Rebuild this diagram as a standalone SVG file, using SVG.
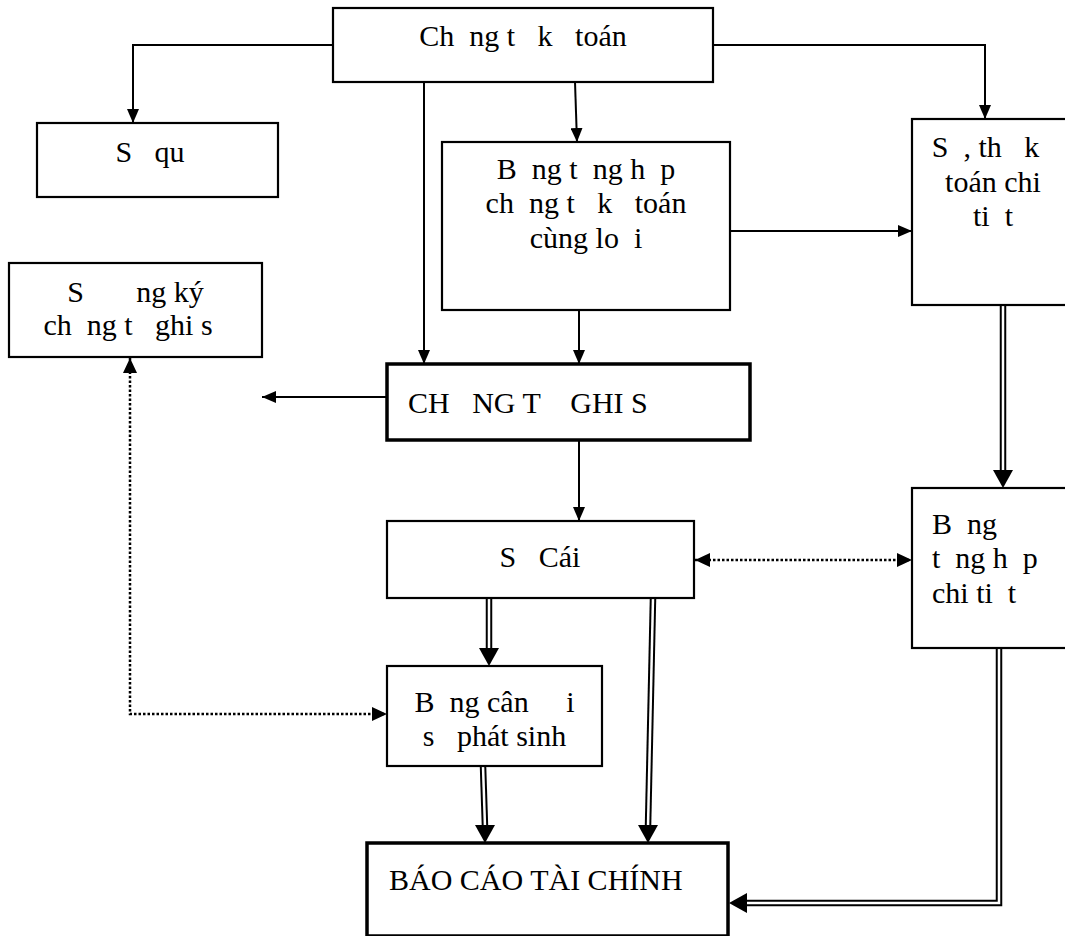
<svg xmlns="http://www.w3.org/2000/svg" width="1065" height="936" viewBox="0 0 1065 936" xml:space="preserve">
<style>
.box{fill:#fff;stroke:#000;stroke-width:2.2}
.thick{fill:#fff;stroke:#000;stroke-width:3.5}
.t{font-family:"Liberation Serif","Times New Roman",serif;font-size:30px;fill:#000;white-space:pre}
.c{text-anchor:middle}
.ln{fill:none;stroke:#000;stroke-width:2}
.dot{fill:none;stroke:#000;stroke-width:2.5;stroke-dasharray:2.5 2}
.dblo{fill:none;stroke:#000;stroke-width:6.5;stroke-linejoin:miter}
.dbli{fill:none;stroke:#fff;stroke-width:2.5;stroke-linejoin:miter}
.head{fill:#000}
</style>
<defs>
<marker id="ar" markerUnits="userSpaceOnUse" markerWidth="14" markerHeight="12" refX="14" refY="6" orient="auto-start-reverse" viewBox="0 0 14 12">
<path d="M0,0 L14,6 L0,12 z" fill="#000"/>
</marker>
<marker id="ard" markerUnits="userSpaceOnUse" markerWidth="15" markerHeight="14" refX="15" refY="7" orient="auto-start-reverse" viewBox="0 0 15 14">
<path d="M0,0 L15,7 L0,14 z" fill="#000"/>
</marker>
</defs>

<g id="connectors">
<path class="ln" d="M333,45 H133 V123" marker-end="url(#ar)"/>
<path class="ln" d="M713,45 H985 V119" marker-end="url(#ar)"/>
<path class="ln" d="M424,82 V364" marker-end="url(#ar)"/>
<path class="ln" d="M575,82 L577,142" marker-end="url(#ar)"/>
<path class="ln" d="M730,231 H912" marker-end="url(#ar)"/>
<path class="ln" d="M579,310 V364" marker-end="url(#ar)"/>
<path class="ln" d="M387,397 H262" marker-end="url(#ar)"/>
<path class="ln" d="M579,440 V521" marker-end="url(#ar)"/>
<path class="dot" d="M130,358 V714 H387" marker-start="url(#ard)" marker-end="url(#ard)"/>
<path class="dot" d="M695,560 H912" marker-start="url(#ard)" marker-end="url(#ard)"/>

<path class="dblo" d="M1003,305 V472"/>
<path class="dbli" d="M1003,305 V472"/>
<polygon class="head" points="993,470 1013,470 1003,488"/>

<path class="dblo" d="M489,598 V650"/>
<path class="dbli" d="M489,598 V650"/>
<polygon class="head" points="479,648 499,648 489,666"/>

<path class="dblo" d="M653,598 L648,827"/>
<path class="dbli" d="M653,598 L648,827"/>
<polygon class="head" points="638,825 658,825 648,843"/>

<path class="dblo" d="M483,766 L485,827"/>
<path class="dbli" d="M483,766 L485,827"/>
<polygon class="head" points="475,825 495,825 485,843"/>

<path class="dblo" d="M999,648 V903 H745"/>
<path class="dbli" d="M999,648 V903 H745"/>
<polygon class="head" points="747,893 747,913 729,903"/>
</g>

<g id="chung-tu-ke-toan">
<rect class="box" x="333" y="8" width="380" height="74"/>
<text class="t c" x="523" y="46">Ch  ng t   k   toán</text>
</g>

<g id="so-quy">
<rect class="box" x="37" y="123" width="241" height="74"/>
<text class="t c" x="157.5" y="162">S   qu  </text>
</g>

<g id="bang-tong-hop-chung-tu">
<rect class="box" x="442" y="142" width="288" height="168"/>
<text class="t c" x="586" y="179">B  ng t  ng h  p</text>
<text class="t c" x="586" y="213">ch  ng t   k   toán</text>
<text class="t c" x="586" y="248">cùng lo  i</text>
</g>

<g id="so-the-chi-tiet">
<rect class="box" x="912" y="119" width="162" height="186"/>
<text class="t c" x="993" y="157">S  , th   k  </text>
<text class="t c" x="993" y="192">toán chi</text>
<text class="t c" x="993" y="226">ti  t</text>
</g>

<g id="so-dang-ky">
<rect class="box" x="9" y="263" width="253" height="94"/>
<text class="t c" x="135.5" y="302">S       ng ký</text>
<text class="t c" x="135.5" y="335">ch  ng t   ghi s  </text>
</g>

<g id="chung-tu-ghi-so">
<rect class="thick" x="387" y="364" width="363" height="76"/>
<text class="t" x="408" y="413">CH   NG T    GHI S   </text>
</g>

<g id="so-cai">
<rect class="box" x="387" y="521" width="307" height="77"/>
<text class="t c" x="540" y="567">S   Cái</text>
</g>

<g id="bang-tong-hop-chi-tiet">
<rect class="box" x="912" y="488" width="162" height="160"/>
<text class="t" x="932" y="534">B  ng</text>
<text class="t" x="932" y="568">t  ng h  p</text>
<text class="t" x="932" y="603">chi ti  t</text>
</g>

<g id="bang-can-doi">
<rect class="box" x="387" y="666" width="215" height="100"/>
<text class="t c" x="494.5" y="712">B  ng cân     i</text>
<text class="t c" x="494.5" y="746">s   phát sinh</text>
</g>

<g id="bao-cao-tai-chinh">
<rect class="thick" x="367" y="843" width="361" height="93"/>
<text class="t" x="389" y="890">BÁO CÁO TÀI CHÍNH</text>
</g>
</svg>
